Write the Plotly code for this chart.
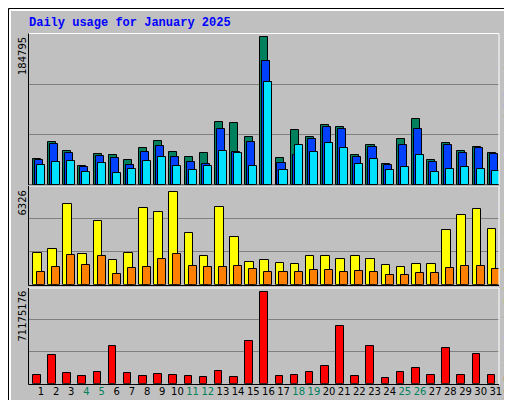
import plotly.graph_objects as go

days = list(range(1, 32))
day_labels = [str(d) for d in days]
weekend = [4, 5, 11, 12, 18, 19, 25, 26]

hits = [32700, 54000, 42700, 23900, 39000, 37700, 31400, 46500, 55300, 41500, 35200, 40200, 77900, 76700, 60300,
        184795, 33900, 67900, 60300, 74200, 71600, 37700, 50300, 26400, 57800, 81700, 31400, 52800, 42700, 47800, 40200]
files = [31400, 51500, 40200, 22600, 36500, 33900, 25100, 41500, 49000, 35200, 28900, 26400, 69100, 41500, 54000,
         154600, 27700, 37700, 56600, 71600, 69100, 35200, 47800, 25100, 50300, 69100, 28900, 50300, 40200, 46500, 39000]
pages = [25100, 28900, 30200, 16300, 27700, 15100, 20100, 30200, 35200, 23900, 18900, 23900, 42700, 40200, 23900,
         128200, 18900, 50300, 41500, 52800, 45300, 26400, 32700, 18900, 22600, 37700, 16300, 20100, 22600, 20100, 17600]
visits = [2147, 2421, 5504, 2078, 4340, 1667, 2147, 5230, 4956, 6326, 3517, 1941, 5299, 3243, 1530, 1667,
          1462, 1393, 1941, 1941, 1736, 1941, 1736, 1325, 1188, 1393, 1393, 3723, 4751, 5162, 3791]
sites = [845, 1188, 2010, 1325, 1941, 708, 1119, 1188, 1736, 2078, 1256, 1188, 1188, 1256, 1051, 845,
         845, 845, 982, 982, 845, 914, 845, 640, 640, 777, 777, 1119, 1256, 1256, 1051]
kbf = [6490000, 22080000, 8050000, 5710000, 8830000, 29090000, 8050000, 5710000, 7270000, 6490000, 5710000,
       4940000, 9610000, 4940000, 32990000, 71175176, 5710000, 6490000, 8830000, 13510000, 44680000, 5710000,
       29090000, 4160000, 8830000, 11950000, 6490000, 27530000, 6490000, 22860000, 6490000]

BG = "#C0C0C0"
fig = go.Figure()
line = dict(color="black", width=1)

def bar(y, color, offset, width, xa, ya):
    fig.add_trace(go.Bar(x=days, y=y, marker=dict(color=color, line=line), offset=offset, width=width,
                         xaxis=xa, yaxis=ya, showlegend=False, hoverinfo="skip"))

bar(hits, "#00805C", -0.53, 0.53, "x", "y")
bar(files, "#0040FF", -0.40, 0.53, "x", "y")
bar(pages, "#00E0FF", -0.27, 0.53, "x", "y")
bar(visits, "#FFFF00", -0.53, 0.57, "x2", "y2")
bar(sites, "#FF8000", -0.27, 0.53, "x2", "y2")
bar(kbf, "#FF0000", -0.53, 0.50, "x3", "y3")

xr = [0.21, 31.21]
xd = [21 / 512, 491 / 512]
top_max = max(hits) * 150.7 / 147.7
mid_max = max(visits) * 98.7 / 92.3
bot_max = max(kbf) * 95.7 / 91.3

def yax(dom, mx):
    return dict(domain=dom, range=[0, mx], tickvals=[mx / 3, 2 * mx / 3], showticklabels=False,
                showgrid=True, gridcolor="#808080", gridwidth=1, zeroline=False, fixedrange=True,
                showline=False, ticks="", automargin=False)

def xax(anchor, show=False):
    d = dict(domain=xd, range=xr, anchor=anchor, showgrid=False, zeroline=False, ticks="",
             showline=False, fixedrange=True, showticklabels=show, automargin=False)
    if show:
        d.update(tickvals=days,
                 ticktext=[f"<span style='color:#00805C'>{l}</span>" if d_ in weekend else l
                           for d_, l in zip(days, day_labels)],
                 tickfont=dict(family="DejaVu Sans", size=10, color="black"), ticklen=0)
    return d

doms = [[1 - 176.7 / 400, 1 - 26 / 400], [1 - 276.7 / 400, 1 - 178 / 400], [1 - 375.7 / 400, 1 - 280 / 400]]

fig.update_layout(
    width=512, height=400, margin=dict(l=0, r=0, t=0, b=0, pad=0, autoexpand=False),
    paper_bgcolor=BG, plot_bgcolor=BG, barmode="overlay", bargap=0,
    xaxis=xax("y"), xaxis2=xax("y2"), xaxis3=xax("y3", True),
    yaxis=yax(doms[0], top_max), yaxis2=yax(doms[1], mid_max), yaxis3=yax(doms[2], bot_max),
)

shapes = []
def ln(x0, y0, x1, y1, c, w=1):
    shapes.append(dict(type="line", xref="paper", yref="paper", x0=x0 / 512, y0=1 - y0 / 400,
                       x1=x1 / 512, y1=1 - y1 / 400, line=dict(color=c, width=w), layer="above"))

ln(0.5, 0.5, 511.5, 0.5, "black"); ln(0.5, 0.5, 0.5, 399.5, "black")
ln(511.5, 0.5, 511.5, 399.5, "black"); ln(0.5, 399.5, 511.5, 399.5, "black")
ln(2, 2, 508, 2, "white", 2); ln(2, 2, 2, 396, "white", 2)
ln(508, 4, 508, 397, "#808080", 3); ln(4, 397, 508, 397, "#808080", 3)
for top, bot in [(25.5, 177), (178, 277.5), (280, 376.5)]:
    ln(20.5, top, 491, top, "white"); ln(491, top, 491, bot, "white")
    ln(20.5, top, 20.5, bot, "black"); ln(20.5, bot, 491, bot, "black")
fig.update_layout(shapes=shapes)

ann = []
def a(text, x, y, xanchor, yanchor, size=10, angle=-90, family="DejaVu Sans", color="black"):
    ann.append(dict(text=text, x=x / 512, y=1 - y / 400, xref="paper", yref="paper", showarrow=False,
                    xanchor=xanchor, yanchor=yanchor, textangle=angle,
                    font=dict(family=family, size=size, color=color)))

a("<b>Daily usage for January 2025</b>", 19, 15, "left", "middle", size=12, angle=0,
  family="Liberation Mono", color="#0000FF")
a(f"{max(hits)}", 14, 27, "center", "top")
a(f"{max(visits)}", 14, 181, "center", "top")
a(f"{max(kbf)}", 14, 281, "center", "top")
mono = "DejaVu Sans Mono"
a("<span style='color:#00E0FF'>Pages</span> / <span style='color:#0040FF'>Files</span> / "
  "<span style='color:#00805C'>Hits</span>", 500, 27, "center", "top", family=mono)
a("<span style='color:#FF8000'>Sites</span> / <span style='color:#FFFF00'>Visits</span>",
  500, 179, "center", "top", family=mono)
a("<span style='color:#FF0000'>kB F</span> / <span style='color:#0080FF'>kB In</span> / "
  "<span style='color:#00C000'>kB Out</span>", 500, 394, "center", "bottom", family=mono)
fig.update_layout(annotations=ann)

fig.write_html("out.html")
